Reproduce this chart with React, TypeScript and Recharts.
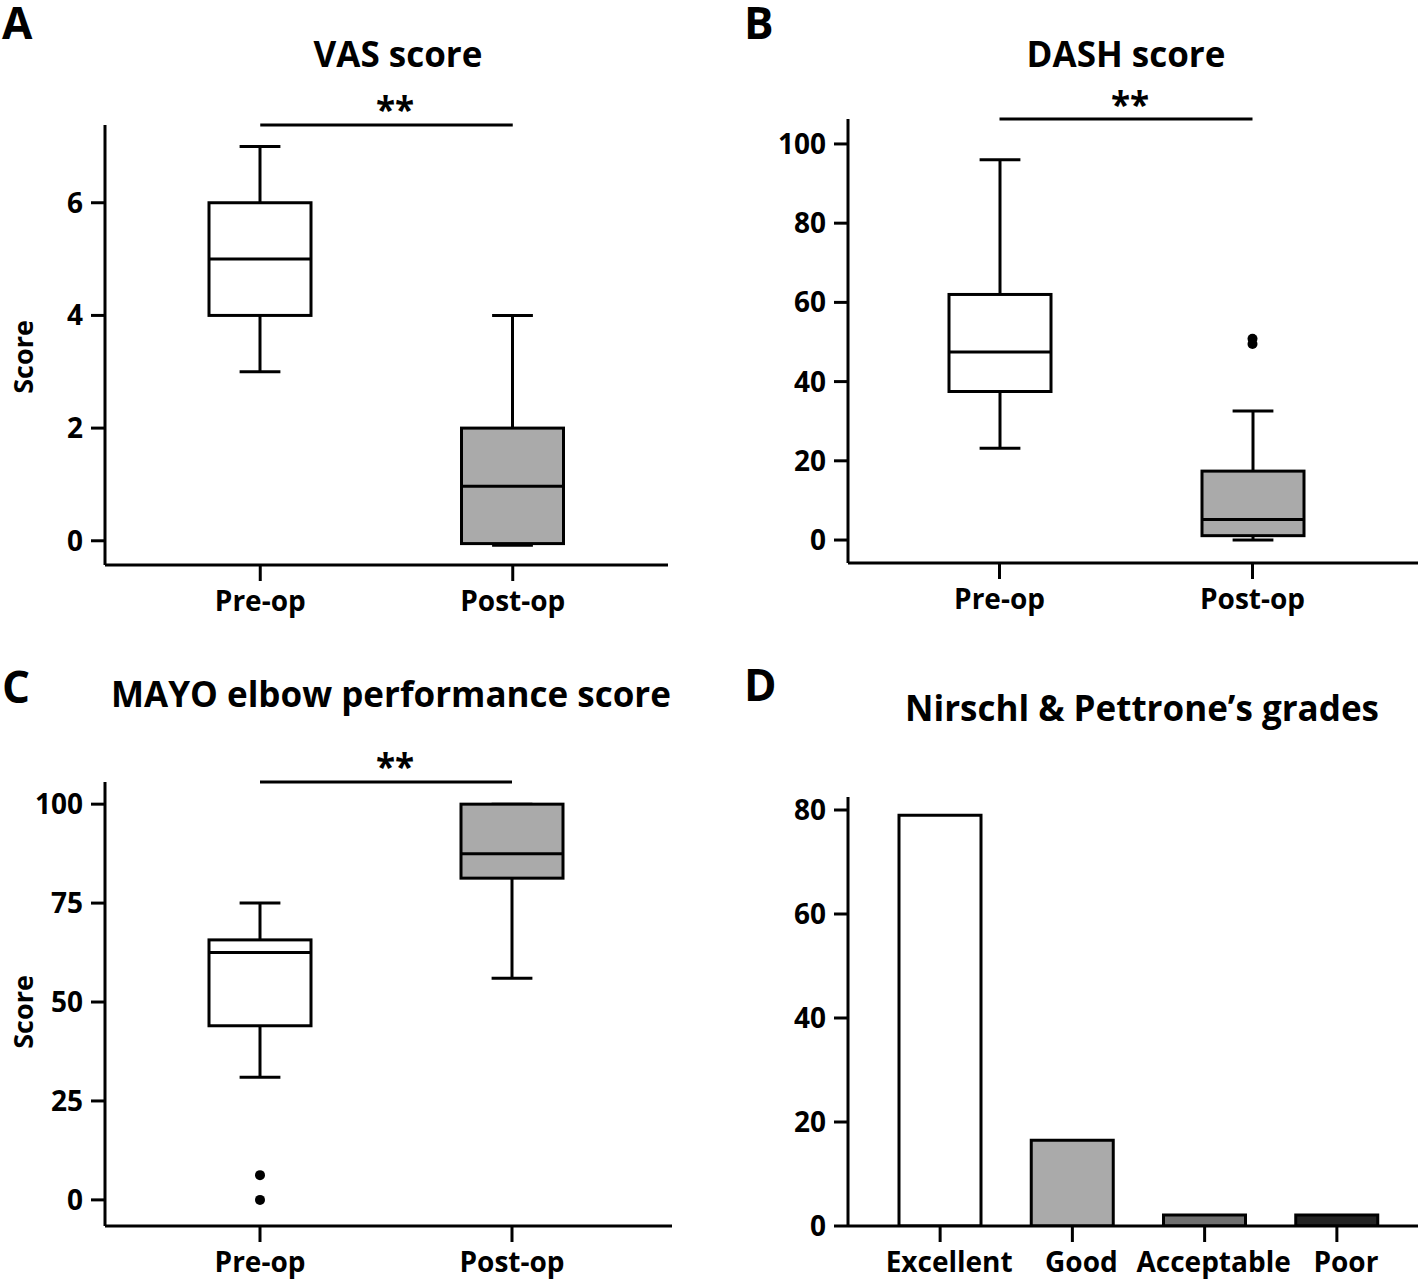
import React from 'react';
import { ComposedChart, BarChart, Bar, Line, XAxis, YAxis, ReferenceLine, Cell } from 'recharts';

// --- data ---
const groups = ['Pre-op', 'Post-op'];

const vasMin = [3, -0.08];
const vasQ1 = [4, -0.05];
const vasMedian = [5, 0.97];
const vasQ3 = [6, 2];
const vasMax = [7, 4];

const dashMin = [23.2, 0];
const dashQ1 = [37.5, 1.1];
const dashMedian = [47.5, 5.2];
const dashQ3 = [62, 17.4];
const dashMax = [96, 32.6];
const dashOutlierA = [null, 49.5];
const dashOutlierB = [null, 50.8];

const mayoMin = [31, 56];
const mayoQ1 = [44, 81.3];
const mayoMedian = [62.5, 87.5];
const mayoQ3 = [65.7, 100];
const mayoMax = [75, 100];
const mayoOutlierA = [6.25, null];
const mayoOutlierB = [0, null];

const grades = ['Excellent', 'Good', 'Acceptable', 'Poor'];
const gradePercent = [79, 16.5, 2.1, 2.1];

const vasTicks = [0, 2, 4, 6];
const dashTicks = [0, 20, 40, 60, 80, 100];
const mayoTicks = [0, 25, 50, 75, 100];
const gradeTicks = [0, 20, 40, 60, 80];

// --- styling ---
const FONT = '"Open Sans", "Noto Sans", sans-serif';
const boxFills = ['#ffffff', '#aaaaaa'];
const gradeFills = ['#ffffff', '#aaaaaa', '#707070', '#242424'];
const SW = 3;

const buildRows = (
  mn: number[], q1: number[], md: number[], q3: number[], mx: number[],
  oa?: (number | null)[], ob?: (number | null)[]
) =>
  groups.map((name, i) => ({
    name,
    min: mn[i],
    q1: q1[i],
    median: md[i],
    q3: q3[i],
    max: mx[i],
    outA: oa ? oa[i] : null,
    outB: ob ? ob[i] : null,
  }));

const vasRows = buildRows(vasMin, vasQ1, vasMedian, vasQ3, vasMax);
const dashRows = buildRows(dashMin, dashQ1, dashMedian, dashQ3, dashMax, dashOutlierA, dashOutlierB);
const mayoRows = buildRows(mayoMin, mayoQ1, mayoMedian, mayoQ3, mayoMax, mayoOutlierA, mayoOutlierB);
const gradeRows = grades.map((name, i) => ({ name, value: gradePercent[i] }));

// box + whiskers drawn inside the [min, max] range bar given by recharts
const BoxShape = (props: any) => {
  const { x, y, width, height, payload, index } = props;
  if (x == null || y == null) return null;
  const top = Math.min(y, y + height);
  const bottom = Math.max(y, y + height);
  const lo = payload.min;
  const hi = payload.max;
  const px = (v: number) => (hi === lo ? top : bottom + ((v - lo) / (hi - lo)) * (top - bottom));
  const cx = x + width / 2;
  const cap = width * 0.4;
  const yQ1 = px(payload.q1);
  const yQ3 = px(payload.q3);
  const yMed = px(payload.median);
  return (
    <g stroke="#000" strokeWidth={SW}>
      <line x1={cx} x2={cx} y1={px(hi)} y2={yQ3} />
      <line x1={cx} x2={cx} y1={yQ1} y2={px(lo)} />
      <line x1={cx - cap / 2} x2={cx + cap / 2} y1={px(hi)} y2={px(hi)} />
      <line x1={cx - cap / 2} x2={cx + cap / 2} y1={px(lo)} y2={px(lo)} />
      <rect x={x} y={yQ3} width={width} height={yQ1 - yQ3} fill={boxFills[index]} />
      <line x1={x} x2={x + width} y1={yMed} y2={yMed} />
    </g>
  );
};

const axisStyle = { stroke: '#000', strokeWidth: SW };
const tickStyle = { fill: '#000', fontSize: 28, fontWeight: 700, fontFamily: FONT };
const xTickStyle = { fill: '#000', fontSize: 28, fontWeight: 700, fontFamily: FONT };

interface BoxProps {
  rows: any[];
  width: number;
  height: number;
  margin: any;
  yWidth: number;
  domain: [number, number];
  ticks: number[];
  pad: { left: number; right: number };
  outliers?: boolean;
}

const BoxPanel = ({ rows, width, height, margin, yWidth, domain, ticks, pad, outliers }: BoxProps) => (
  <ComposedChart width={width} height={height} data={rows} margin={margin}>
    <XAxis
      dataKey="name"
      padding={pad}
      axisLine={axisStyle}
      tickLine={axisStyle}
      tickSize={16}
      tickMargin={10}
      tick={xTickStyle}
      height={56}
      interval={0}
    />
    <YAxis
      domain={domain}
      ticks={ticks}
      allowDataOverflow
      axisLine={axisStyle}
      tickLine={axisStyle}
      tickSize={14}
      tickMargin={8}
      tick={tickStyle}
      width={yWidth}
    />
    <Bar dataKey={(d: any) => [d.min, d.max]} barSize={102} shape={(p: any) => <BoxShape {...p} />} isAnimationActive={false} />
    {outliers && (
      <Line dataKey="outA" stroke="none" dot={{ r: 5, fill: '#000', stroke: 'none' }} activeDot={false} isAnimationActive={false} />
    )}
    {outliers && (
      <Line dataKey="outB" stroke="none" dot={{ r: 5, fill: '#000', stroke: 'none' }} activeDot={false} isAnimationActive={false} />
    )}
    <ReferenceLine
      segment={[{ x: 'Pre-op', y: domain[1] }, { x: 'Post-op', y: domain[1] }]}
      stroke="#000"
      strokeWidth={SW}
      ifOverflow="visible"
    />
  </ComposedChart>
);

const textStyle: React.CSSProperties = { fontFamily: FONT, fontWeight: 700, fill: '#000' };

export default function App() {
  return (
    <div
      style={{
        position: 'absolute',
        left: 0,
        top: 0,
        width: 1418,
        height: 1283,
        overflow: 'hidden',
        background: '#fff',
        fontFamily: FONT,
      }}
    >
      <div style={{ position: 'absolute', left: 0, top: 0 }}>
        <BoxPanel
          rows={vasRows}
          width={700}
          height={640}
          margin={{ top: 125, right: 32, bottom: 19, left: 0 }}
          yWidth={105}
          domain={[-0.43, 7.38]}
          ticks={vasTicks}
          pad={{ left: 29, right: 29 }}
        />
      </div>
      <div style={{ position: 'absolute', left: 700, top: 0 }}>
        <BoxPanel
          rows={dashRows}
          width={718}
          height={640}
          margin={{ top: 119, right: 0, bottom: 21, left: 0 }}
          yWidth={148}
          domain={[-5.8, 106.3]}
          ticks={dashTicks}
          pad={{ left: 25, right: 39 }}
          outliers
        />
      </div>
      <div style={{ position: 'absolute', left: 0, top: 640 }}>
        <BoxPanel
          rows={mayoRows}
          width={700}
          height={643}
          margin={{ top: 142, right: 28, bottom: 1, left: 0 }}
          yWidth={105}
          domain={[-6.6, 105.6]}
          ticks={mayoTicks}
          pad={{ left: 29, right: 34 }}
          outliers
        />
      </div>
      <div style={{ position: 'absolute', left: 700, top: 640 }}>
        <BarChart width={718} height={643} data={gradeRows} margin={{ top: 157, right: 0, bottom: 1, left: 0 }}>
          <XAxis
            dataKey="name"
            padding={{ left: 26, right: 15 }}
            axisLine={axisStyle}
            tickLine={axisStyle}
            tickSize={16}
            tickMargin={10}
            tick={{ ...xTickStyle, dx: 9 }}
            height={56}
            interval={0}
          />
          <YAxis
            domain={[0, 82.5]}
            ticks={gradeTicks}
            allowDataOverflow
            axisLine={axisStyle}
            tickLine={axisStyle}
            tickSize={14}
            tickMargin={8}
            tick={tickStyle}
            width={148}
          />
          <Bar dataKey="value" barSize={82} stroke="#000" strokeWidth={SW} isAnimationActive={false}>
            {gradeRows.map((r, i) => (
              <Cell key={r.name} fill={gradeFills[i]} />
            ))}
          </Bar>
        </BarChart>
      </div>
      <svg width={1418} height={1283} style={{ position: 'absolute', left: 0, top: 0, pointerEvents: 'none' }}>
        <text x={2} y={39} fontSize={44} style={textStyle}>A</text>
        <text x={744} y={39} fontSize={44} style={textStyle}>B</text>
        <text x={2} y={703} fontSize={44} style={textStyle}>C</text>
        <text x={744} y={701} fontSize={44} style={textStyle}>D</text>
        <text x={398} y={67} fontSize={35} textAnchor="middle" style={textStyle}>VAS score</text>
        <text x={1126} y={67} fontSize={35} textAnchor="middle" style={textStyle}>DASH score</text>
        <text x={391} y={707} fontSize={35} textAnchor="middle" style={textStyle}>MAYO elbow performance score</text>
        <text x={1142} y={721} fontSize={35} textAnchor="middle" style={textStyle}>Nirschl &amp; Pettrone’s grades</text>
        <text x={395} y={122} fontSize={35} textAnchor="middle" style={textStyle}>**</text>
        <text x={1130} y={117} fontSize={35} textAnchor="middle" style={textStyle}>**</text>
        <text x={395} y={779} fontSize={35} textAnchor="middle" style={textStyle}>**</text>
        <text x={33} y={357} fontSize={27} textAnchor="middle" transform="rotate(-90 33 357)" style={textStyle}>Score</text>
        <text x={33} y={1012} fontSize={27} textAnchor="middle" transform="rotate(-90 33 1012)" style={textStyle}>Score</text>
      </svg>
    </div>
  );
}
